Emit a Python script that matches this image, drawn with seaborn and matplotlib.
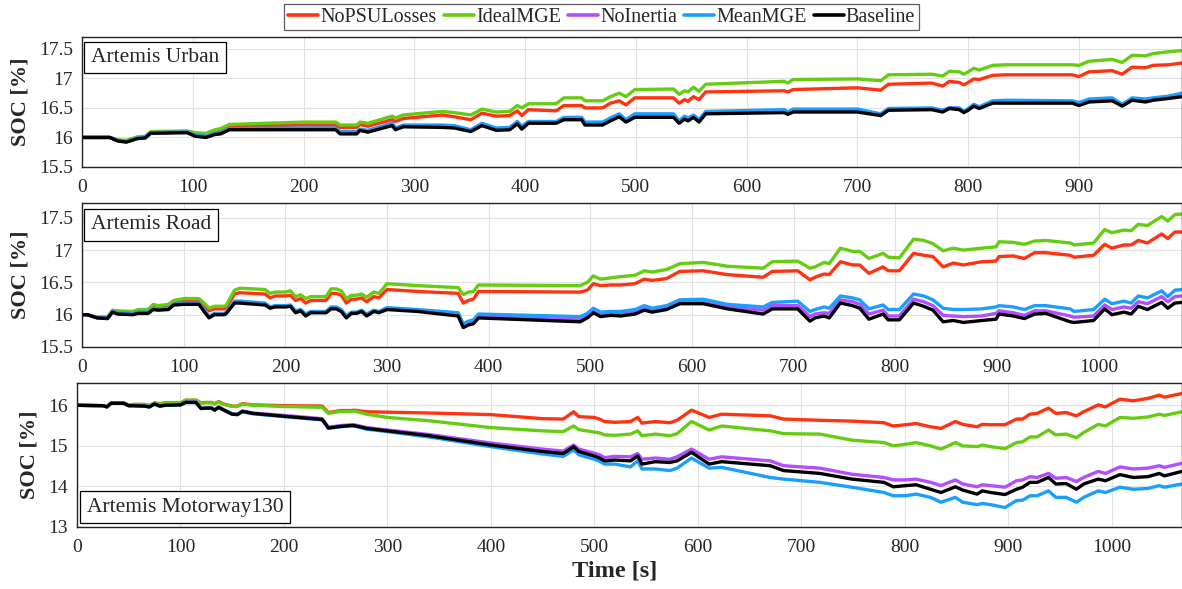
import numpy as np
import pandas as pd
import matplotlib
matplotlib.use('Agg')
import matplotlib.pyplot as plt
import seaborn as sns

# Series names and colours (legend order)
cases = ['NoPSULosses', 'IdealMGE', 'NoInertia', 'MeanMGE', 'Baseline']
colors = ['#ff3311', '#66cc11', '#b34dff', '#1a9fff', '#000000']

# ---------------- Artemis Urban ----------------
t_urban = [0, 25, 32, 40, 45, 50, 57, 62, 95, 102, 112, 120, 125, 133, 200, 229, 233, 248, 251, 258,
           280, 283, 290, 325, 336, 351, 361, 374, 386, 393, 397, 403, 428, 435, 451, 454, 470, 477, 485, 491,
           499, 534, 539, 544, 547, 552, 557, 563, 634, 637, 642, 700, 721, 728, 767, 777, 783, 792, 796, 800,
           805, 810, 822, 834, 894, 900, 909, 930, 939, 948, 960, 967, 981, 993]
urban_nopsu = [16.00, 16.00, 15.95, 15.94, 15.97, 16.00, 16.01, 16.09, 16.10, 16.06,
               16.05, 16.10, 16.12, 16.19, 16.21, 16.21, 16.17, 16.17, 16.22, 16.19,
               16.30, 16.27, 16.32, 16.38, 16.35, 16.30, 16.41, 16.36, 16.37, 16.45,
               16.37, 16.47, 16.45, 16.54, 16.54, 16.50, 16.50, 16.58, 16.62, 16.55,
               16.67, 16.67, 16.58, 16.64, 16.61, 16.69, 16.64, 16.77, 16.79, 16.77,
               16.81, 16.84, 16.80, 16.90, 16.92, 16.87, 16.95, 16.93, 16.89, 16.93,
               16.99, 16.98, 17.05, 17.06, 17.06, 17.03, 17.11, 17.13, 17.07, 17.19,
               17.18, 17.22, 17.23, 17.26]
urban_ideal = [16.00, 16.00, 15.96, 15.95, 15.98, 16.01, 16.02, 16.10, 16.11, 16.08,
               16.07, 16.13, 16.15, 16.22, 16.26, 16.26, 16.21, 16.21, 16.26, 16.24,
               16.36, 16.33, 16.38, 16.44, 16.42, 16.38, 16.48, 16.43, 16.44, 16.54,
               16.50, 16.57, 16.57, 16.67, 16.67, 16.62, 16.62, 16.69, 16.75, 16.69,
               16.81, 16.82, 16.73, 16.79, 16.77, 16.85, 16.78, 16.90, 16.95, 16.92,
               16.98, 16.99, 16.96, 17.06, 17.07, 17.04, 17.12, 17.11, 17.07, 17.11,
               17.17, 17.14, 17.22, 17.23, 17.23, 17.22, 17.29, 17.32, 17.27, 17.39,
               17.38, 17.42, 17.45, 17.47]
urban_noinertia = [16.00, 16.00, 15.95, 15.93, 15.96, 15.99, 16.00, 16.08, 16.09, 16.03,
                   16.01, 16.06, 16.07, 16.14, 16.15, 16.15, 16.08, 16.08, 16.13, 16.11,
                   16.22, 16.15, 16.20, 16.19, 16.18, 16.12, 16.22, 16.14, 16.15, 16.25,
                   16.17, 16.26, 16.26, 16.32, 16.32, 16.24, 16.24, 16.31, 16.38, 16.28,
                   16.37, 16.37, 16.26, 16.34, 16.31, 16.36, 16.28, 16.42, 16.45, 16.41,
                   16.46, 16.46, 16.39, 16.48, 16.49, 16.45, 16.50, 16.49, 16.43, 16.48,
                   16.55, 16.51, 16.60, 16.61, 16.60, 16.57, 16.63, 16.65, 16.55, 16.65,
                   16.63, 16.65, 16.68, 16.72]
urban_mean = [16.00, 16.00, 15.95, 15.93, 15.96, 15.99, 16.00, 16.08, 16.09, 16.04,
              16.02, 16.07, 16.08, 16.15, 16.16, 16.16, 16.10, 16.10, 16.14, 16.12,
              16.24, 16.16, 16.21, 16.21, 16.20, 16.13, 16.24, 16.16, 16.17, 16.27,
              16.19, 16.27, 16.27, 16.34, 16.34, 16.26, 16.26, 16.33, 16.40, 16.30,
              16.40, 16.40, 16.28, 16.36, 16.33, 16.38, 16.30, 16.44, 16.47, 16.43,
              16.48, 16.48, 16.40, 16.49, 16.50, 16.46, 16.50, 16.50, 16.44, 16.49,
              16.56, 16.52, 16.62, 16.63, 16.62, 16.59, 16.65, 16.67, 16.56, 16.67,
              16.65, 16.67, 16.70, 16.75]
urban_base = [16.00, 16.00, 15.94, 15.92, 15.95, 15.98, 15.99, 16.07, 16.08, 16.02,
              16.00, 16.05, 16.06, 16.13, 16.13, 16.13, 16.06, 16.06, 16.12, 16.09,
              16.20, 16.13, 16.18, 16.17, 16.16, 16.10, 16.20, 16.12, 16.13, 16.23,
              16.14, 16.24, 16.24, 16.30, 16.30, 16.21, 16.21, 16.28, 16.35, 16.26,
              16.34, 16.34, 16.24, 16.31, 16.28, 16.34, 16.26, 16.40, 16.42, 16.39,
              16.43, 16.43, 16.37, 16.46, 16.47, 16.43, 16.49, 16.47, 16.42, 16.46,
              16.53, 16.49, 16.58, 16.58, 16.58, 16.54, 16.60, 16.62, 16.53, 16.63,
              16.60, 16.63, 16.66, 16.69]

# ---------------- Artemis Road ----------------
t_road = [0, 5, 15, 25, 30, 35, 50, 55, 65, 70, 75, 85, 90, 100, 115, 120, 125, 130, 140, 142,
          150, 155, 180, 185, 190, 200, 205, 210, 215, 220, 225, 240, 245, 250, 255, 260, 265, 270, 275, 280,
          287, 292, 300, 330, 370, 375, 380, 385, 390, 490, 497, 503, 510, 520, 530, 544, 553, 561, 575, 588,
          611, 635, 670, 679, 704, 716, 721, 730, 735, 746, 758, 765, 774, 788, 793, 804, 818, 828, 837, 847,
          857, 867, 885, 899, 902, 916, 927, 937, 948, 972, 976, 995, 1006, 1013, 1025, 1032, 1039, 1048, 1062, 1068,
          1075, 1082]
road_nopsu = [16.00, 16.00, 15.96, 15.96, 16.06, 16.04, 16.03, 16.06, 16.06, 16.13,
              16.11, 16.13, 16.19, 16.22, 16.22, 16.14, 16.06, 16.09, 16.09, 16.11,
              16.32, 16.34, 16.32, 16.26, 16.29, 16.29, 16.30, 16.22, 16.25, 16.18,
              16.22, 16.22, 16.33, 16.33, 16.30, 16.18, 16.24, 16.24, 16.26, 16.20,
              16.28, 16.26, 16.39, 16.36, 16.33, 16.18, 16.22, 16.24, 16.36, 16.35,
              16.38, 16.48, 16.45, 16.46, 16.46, 16.48, 16.55, 16.53, 16.56, 16.67,
              16.68, 16.62, 16.58, 16.67, 16.68, 16.54, 16.58, 16.63, 16.62, 16.82,
              16.77, 16.77, 16.64, 16.74, 16.68, 16.68, 16.95, 16.92, 16.90, 16.74,
              16.80, 16.77, 16.82, 16.83, 16.90, 16.91, 16.87, 16.96, 16.96, 16.92,
              16.89, 16.92, 17.09, 17.03, 17.08, 17.08, 17.15, 17.11, 17.25, 17.18,
              17.28, 17.28]
road_ideal = [16.00, 16.00, 15.96, 15.96, 16.07, 16.06, 16.05, 16.08, 16.08, 16.16,
              16.14, 16.16, 16.22, 16.25, 16.25, 16.18, 16.10, 16.13, 16.13, 16.15,
              16.38, 16.41, 16.39, 16.33, 16.35, 16.35, 16.37, 16.28, 16.31, 16.25,
              16.28, 16.28, 16.40, 16.40, 16.37, 16.25, 16.30, 16.30, 16.32, 16.27,
              16.35, 16.33, 16.48, 16.45, 16.42, 16.31, 16.35, 16.36, 16.46, 16.45,
              16.50, 16.60, 16.55, 16.57, 16.59, 16.61, 16.68, 16.66, 16.70, 16.79,
              16.81, 16.75, 16.72, 16.82, 16.83, 16.72, 16.74, 16.81, 16.79, 17.03,
              16.98, 16.98, 16.87, 16.95, 16.89, 16.88, 17.17, 17.15, 17.10, 16.99,
              17.03, 17.00, 17.03, 17.05, 17.13, 17.12, 17.09, 17.14, 17.15, 17.11,
              17.08, 17.11, 17.32, 17.27, 17.31, 17.30, 17.40, 17.38, 17.52, 17.45,
              17.55, 17.56]
road_noinertia = [16.00, 16.00, 15.95, 15.94, 16.04, 16.02, 16.01, 16.03, 16.03, 16.09,
                  16.08, 16.09, 16.15, 16.17, 16.17, 16.06, 15.96, 16.01, 16.01, 16.03,
                  16.19, 16.19, 16.16, 16.11, 16.13, 16.13, 16.14, 16.04, 16.07, 15.99,
                  16.04, 16.04, 16.10, 16.10, 16.06, 15.96, 16.03, 16.03, 16.06, 15.99,
                  16.06, 16.04, 16.09, 16.06, 16.00, 15.83, 15.87, 15.89, 15.97, 15.92,
                  15.98, 16.06, 16.00, 16.02, 16.01, 16.04, 16.09, 16.06, 16.10, 16.19,
                  16.19, 16.12, 16.07, 16.14, 16.14, 15.97, 16.01, 16.03, 16.02, 16.23,
                  16.20, 16.16, 16.01, 16.07, 15.98, 15.98, 16.24, 16.20, 16.14, 15.99,
                  15.98, 15.97, 15.98, 16.02, 16.06, 16.03, 15.99, 16.06, 16.06, 15.98,
                  15.96, 15.98, 16.15, 16.08, 16.12, 16.10, 16.20, 16.17, 16.28, 16.20,
                  16.28, 16.29]
road_mean = [16.00, 16.00, 15.95, 15.95, 16.05, 16.03, 16.02, 16.04, 16.04, 16.10,
             16.09, 16.10, 16.16, 16.18, 16.18, 16.08, 15.97, 16.02, 16.02, 16.04,
             16.21, 16.21, 16.18, 16.12, 16.14, 16.14, 16.15, 16.06, 16.08, 16.01,
             16.05, 16.05, 16.12, 16.12, 16.08, 15.98, 16.04, 16.04, 16.07, 16.01,
             16.07, 16.05, 16.11, 16.08, 16.03, 15.86, 15.90, 15.92, 16.01, 15.97,
             16.02, 16.10, 16.04, 16.05, 16.05, 16.08, 16.14, 16.10, 16.14, 16.23,
             16.24, 16.16, 16.12, 16.19, 16.21, 16.05, 16.08, 16.12, 16.10, 16.29,
             16.26, 16.23, 16.09, 16.15, 16.08, 16.08, 16.32, 16.29, 16.23, 16.10,
             16.08, 16.08, 16.09, 16.12, 16.14, 16.12, 16.08, 16.14, 16.14, 16.09,
             16.05, 16.08, 16.24, 16.17, 16.21, 16.18, 16.29, 16.26, 16.37, 16.28,
             16.38, 16.39]
road_base = [16.00, 16.00, 15.95, 15.94, 16.04, 16.01, 16.00, 16.02, 16.02, 16.08,
             16.07, 16.08, 16.15, 16.16, 16.16, 16.05, 15.95, 16.00, 16.00, 16.02,
             16.18, 16.18, 16.15, 16.10, 16.12, 16.12, 16.13, 16.03, 16.06, 15.98,
             16.03, 16.03, 16.09, 16.09, 16.05, 15.95, 16.02, 16.02, 16.05, 15.98,
             16.05, 16.03, 16.08, 16.05, 15.98, 15.80, 15.84, 15.86, 15.95, 15.89,
             15.95, 16.03, 15.97, 15.99, 15.98, 16.01, 16.07, 16.04, 16.08, 16.17,
             16.17, 16.09, 16.01, 16.09, 16.09, 15.90, 15.95, 15.98, 15.95, 16.18,
             16.14, 16.10, 15.93, 16.01, 15.92, 15.92, 16.18, 16.13, 16.07, 15.89,
             15.91, 15.88, 15.91, 15.93, 16.01, 15.98, 15.94, 16.01, 16.02, 15.89,
             15.88, 15.91, 16.09, 16.00, 16.04, 16.01, 16.13, 16.08, 16.19, 16.10,
             16.18, 16.19]

# ---------------- Artemis Motorway130 ----------------
t_mw = [0, 25, 29, 33, 45, 50, 55, 65, 70, 75, 80, 85, 100, 105, 115, 120, 125, 130, 133, 137,
        142, 150, 155, 160, 170, 200, 237, 243, 255, 265, 268, 280, 300, 340, 400, 450, 470, 480, 485, 500,
        505, 510, 520, 535, 542, 546, 559, 573, 580, 594, 611, 623, 670, 683, 718, 749, 780, 789, 801, 811,
        825, 835, 849, 856, 870, 875, 883, 897, 908, 914, 921, 928, 939, 946, 956, 966, 973, 987, 994, 1008,
        1021, 1035, 1046, 1051, 1068]
mw_nopsu = [16.00, 15.99, 15.97, 16.06, 16.06, 16.01, 16.02, 16.02, 15.99, 16.06,
            16.04, 16.06, 16.06, 16.12, 16.12, 16.06, 16.07, 16.07, 16.04, 16.09,
            16.03, 15.98, 15.98, 16.04, 16.01, 15.99, 15.98, 15.82, 15.87, 15.87,
            15.88, 15.84, 15.83, 15.81, 15.77, 15.67, 15.66, 15.84, 15.72, 15.70,
            15.66, 15.60, 15.58, 15.60, 15.70, 15.56, 15.60, 15.57, 15.63, 15.88,
            15.70, 15.78, 15.74, 15.66, 15.63, 15.61, 15.57, 15.49, 15.52, 15.55,
            15.47, 15.43, 15.60, 15.53, 15.47, 15.53, 15.52, 15.52, 15.66, 15.66,
            15.78, 15.80, 15.93, 15.80, 15.82, 15.74, 15.84, 16.01, 15.96, 16.15,
            16.11, 16.17, 16.25, 16.20, 16.29]
mw_ideal = [16.00, 15.99, 15.97, 16.06, 16.06, 16.01, 16.02, 16.02, 15.99, 16.05,
            16.03, 16.05, 16.05, 16.13, 16.13, 16.05, 16.06, 16.06, 16.03, 16.08,
            16.02, 15.97, 15.97, 16.03, 16.00, 15.97, 15.95, 15.80, 15.85, 15.85,
            15.86, 15.78, 15.70, 15.62, 15.45, 15.37, 15.35, 15.49, 15.40, 15.34,
            15.32, 15.27, 15.26, 15.29, 15.37, 15.25, 15.29, 15.25, 15.30, 15.60,
            15.39, 15.49, 15.37, 15.30, 15.29, 15.14, 15.08, 15.00, 15.04, 15.08,
            15.00, 14.92, 15.08, 15.00, 14.98, 15.02, 14.98, 14.93, 15.08, 15.10,
            15.22, 15.22, 15.39, 15.27, 15.29, 15.20, 15.33, 15.53, 15.49, 15.70,
            15.68, 15.71, 15.78, 15.75, 15.84]
mw_noinertia = [16.00, 15.99, 15.96, 16.05, 16.05, 15.99, 15.99, 15.98, 15.96, 16.03,
                15.98, 16.00, 16.01, 16.08, 16.08, 15.93, 15.94, 15.94, 15.89, 15.96,
                15.89, 15.79, 15.78, 15.86, 15.81, 15.75, 15.67, 15.46, 15.50, 15.52,
                15.52, 15.45, 15.39, 15.28, 15.07, 14.92, 14.87, 15.02, 14.92, 14.82,
                14.78, 14.71, 14.74, 14.73, 14.81, 14.67, 14.70, 14.67, 14.73, 14.92,
                14.67, 14.73, 14.63, 14.51, 14.45, 14.30, 14.22, 14.16, 14.16, 14.18,
                14.10, 14.02, 14.16, 14.06, 13.99, 14.04, 14.02, 13.98, 14.14, 14.16,
                14.24, 14.22, 14.32, 14.20, 14.22, 14.12, 14.22, 14.37, 14.32, 14.48,
                14.43, 14.45, 14.51, 14.47, 14.57]
mw_mean = [16.00, 15.99, 15.96, 16.05, 16.05, 15.99, 15.99, 15.98, 15.96, 16.03,
           15.98, 16.00, 16.01, 16.07, 16.07, 15.92, 15.93, 15.93, 15.88, 15.95,
           15.88, 15.78, 15.77, 15.84, 15.79, 15.72, 15.64, 15.43, 15.47, 15.49,
           15.49, 15.41, 15.35, 15.22, 14.98, 14.80, 14.74, 14.90, 14.78, 14.67,
           14.62, 14.55, 14.55, 14.48, 14.63, 14.43, 14.43, 14.39, 14.45, 14.70,
           14.45, 14.47, 14.22, 14.18, 14.10, 13.98, 13.85, 13.77, 13.77, 13.81,
           13.73, 13.61, 13.73, 13.61, 13.55, 13.58, 13.55, 13.48, 13.65, 13.66,
           13.77, 13.77, 13.89, 13.73, 13.73, 13.61, 13.73, 13.89, 13.85, 13.98,
           13.93, 13.95, 14.02, 13.98, 14.06]
mw_base = [16.00, 15.99, 15.96, 16.05, 16.05, 15.99, 15.99, 15.98, 15.96, 16.03,
           15.98, 16.00, 16.01, 16.07, 16.07, 15.92, 15.93, 15.93, 15.88, 15.95,
           15.88, 15.78, 15.77, 15.85, 15.80, 15.73, 15.65, 15.44, 15.48, 15.50,
           15.50, 15.43, 15.37, 15.25, 15.02, 14.86, 14.81, 14.98, 14.86, 14.75,
           14.70, 14.63, 14.65, 14.63, 14.75, 14.55, 14.61, 14.59, 14.63, 14.84,
           14.55, 14.61, 14.51, 14.39, 14.32, 14.18, 14.10, 13.99, 14.02, 14.04,
           13.93, 13.85, 13.99, 13.91, 13.81, 13.89, 13.85, 13.80, 13.93, 13.98,
           14.10, 14.10, 14.22, 14.06, 14.07, 13.93, 14.06, 14.18, 14.14, 14.29,
           14.22, 14.24, 14.32, 14.26, 14.37]


def long_frame(t, series):
    # stack the five series into long form for seaborn
    parts = [pd.DataFrame({'t': t, 'soc': s, 'case': name}) for name, s in zip(cases, series)]
    return pd.concat(parts, ignore_index=True)


panels = [
    ('Artemis Urban', long_frame(t_urban, [urban_nopsu, urban_ideal, urban_noinertia, urban_mean, urban_base]),
     (0, 993), (15.5, 17.7), [15.5, 16, 16.5, 17, 17.5], np.arange(0, 901, 100)),
    ('Artemis Road', long_frame(t_road, [road_nopsu, road_ideal, road_noinertia, road_mean, road_base]),
     (0, 1082), (15.5, 17.73), [15.5, 16, 16.5, 17, 17.5], np.arange(0, 1001, 100)),
    ('Artemis Motorway130', long_frame(t_mw, [mw_nopsu, mw_ideal, mw_noinertia, mw_mean, mw_base]),
     (0, 1068), (13, 16.55), [13, 14, 15, 16], np.arange(0, 1001, 100)),
]

sns.set_style('white')
plt.rcParams['font.family'] = ['Liberation Serif', 'DejaVu Serif']

fig = plt.figure(figsize=(11.82, 5.89), dpi=100)
boxes = [[0.0694, 0.7165, 0.9306, 0.2207],
         [0.0694, 0.4109, 0.9306, 0.2445],
         [0.0651, 0.1053, 0.9349, 0.2445]]

handles = None
for i, (name, df, xlim, ylim, yticks, xticks) in enumerate(panels):
    ax = fig.add_axes(boxes[i])
    sns.lineplot(data=df, x='t', y='soc', hue='case', hue_order=cases, palette=colors,
                 linewidth=2.4, ax=ax, legend=(i == 0), sort=False)
    if i == 0:
        handles, labels = ax.get_legend_handles_labels()
        ax.get_legend().remove()
    ax.set_xlim(*xlim)
    ax.set_ylim(*ylim)
    ax.set_yticks(yticks)
    ax.set_yticklabels(['%g' % v for v in yticks])
    ax.set_xticks(xticks)
    ax.grid(True, color='#e2e2e2', linewidth=0.8)
    ax.tick_params(direction='in', length=3, width=0.6, labelsize=14, colors='#262626')
    ax.tick_params(axis='x', pad=9)
    ax.tick_params(axis='y', pad=6.5)
    for sp in ax.spines.values():
        sp.set_color('#222222')
        sp.set_linewidth(1.0)
    ax.set_ylabel('SOC [%]', fontsize=16, fontweight='bold', labelpad=6)
    ax.set_xlabel('')
    if i < 2:
        ax.text(0.008, 0.915, name, transform=ax.transAxes, fontsize=15.5, va='top', ha='left',
                bbox=dict(boxstyle='square,pad=0.3', fc='white', ec='black', lw=0.9))
    else:
        ax.text(0.009, 0.07, name, transform=ax.transAxes, fontsize=15.5, va='bottom', ha='left',
                bbox=dict(boxstyle='square,pad=0.3', fc='white', ec='black', lw=0.9))
        ax.set_xlabel('Time [s]', fontsize=17.5, fontweight='bold')
        ax.xaxis.set_label_coords(0.487, -0.235)

leg = fig.legend(handles, labels, loc='center', bbox_to_anchor=(0.509, 0.971), ncol=5,
                 fontsize=14.5, frameon=True, fancybox=False, edgecolor='#333333',
                 handlelength=1.5, handletextpad=0.1, columnspacing=0.35, borderpad=0.18,
                 borderaxespad=0)
leg.get_frame().set_linewidth(0.9)
for h in leg.get_lines():
    h.set_linewidth(2.6)

fig.savefig('out.png', dpi=100)
